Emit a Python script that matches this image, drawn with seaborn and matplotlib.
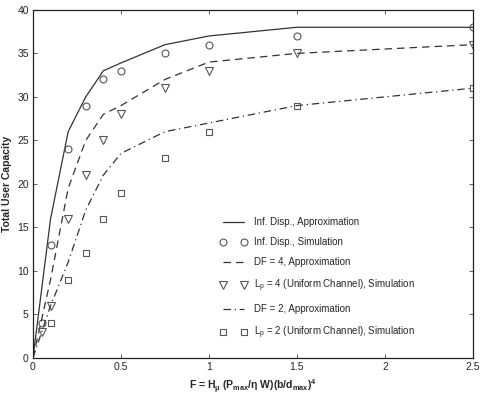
import numpy as np
import pandas as pd
import matplotlib
matplotlib.use('Agg')
import matplotlib.pyplot as plt
import seaborn as sns

# approximation curves
f_approx = [0, 0.05, 0.1, 0.2, 0.3, 0.4, 0.5, 0.75, 1.0, 1.5, 2.5]
inf_approx = [0, 8, 16, 26, 30, 33, 33.9, 36, 37, 38, 38]
df4_approx = [0, 4.5, 9, 19.5, 25, 28, 29, 32, 34, 35, 36]
df2_approx = [0, 3, 6, 11, 17, 21, 23.5, 26, 27, 29, 31]

# simulation points
f_sim = [0.05, 0.1, 0.2, 0.3, 0.4, 0.5, 0.75, 1.0, 1.5, 2.5]
inf_sim = [4, 13, 24, 29, 32, 33, 35, 36, 37, 38]
lp4_sim = [3, 6, 16, 21, 25, 28, 31, 33, 35, 36]
f_sim2 = [0.1, 0.2, 0.3, 0.4, 0.5, 0.75, 1.0, 1.5, 2.5]
lp2_sim = [4, 9, 12, 16, 19, 23, 26, 29, 31]

sns.set_style('ticks')
plt.rcParams['font.family'] = ['Liberation Sans', 'DejaVu Sans']
plt.rcParams['mathtext.fontset'] = 'custom'
plt.rcParams['mathtext.rm'] = 'Liberation Sans'
plt.rcParams['mathtext.it'] = 'Liberation Sans:italic'
plt.rcParams['mathtext.bf'] = 'Liberation Sans:bold'

fig = plt.figure(figsize=(4.85, 3.95), dpi=100)
ax = fig.add_axes([0.068, 0.094, 0.907, 0.881])

lc = '#333333'
mc = '#555555'
lw = 0.9

sns.lineplot(x=f_approx, y=inf_approx, ax=ax, color=lc, linewidth=lw,
             linestyle='-', label='Inf. Disp., Approximation')
sns.lineplot(x=f_sim, y=inf_sim, ax=ax, color=mc, linestyle='', marker='o',
             markersize=5, markerfacecolor='none', markeredgecolor=mc,
             markeredgewidth=0.8, label='Inf. Disp., Simulation')
sns.lineplot(x=f_approx, y=df4_approx, ax=ax, color=lc, linewidth=lw,
             dashes=(6, 4), label='DF = 4, Approximation')
sns.lineplot(x=f_sim, y=lp4_sim, ax=ax, color=mc, linestyle='', marker='v',
             markersize=5.5, markerfacecolor='none', markeredgecolor=mc,
             markeredgewidth=0.8, label=r'L$_\mathregular{p}$ = 4 (Uniform Channel), Simulation')
sns.lineplot(x=f_approx, y=df2_approx, ax=ax, color=lc, linewidth=lw,
             dashes=(6, 3, 1, 3), label='DF = 2, Approximation')
sns.lineplot(x=f_sim2, y=lp2_sim, ax=ax, color=mc, linestyle='', marker='s',
             markersize=4, markerfacecolor='none', markeredgecolor=mc,
             markeredgewidth=0.8, label=r'L$_\mathregular{p}$ = 2 (Uniform Channel), Simulation')

ax.set_xlim(0, 2.5)
ax.set_ylim(0, 40)
ax.set_xticks([0, 0.5, 1, 1.5, 2, 2.5])
ax.set_xticklabels(['0', '0.5', '1', '1.5', '2', '2.5'])
ax.set_yticks(range(0, 41, 5))
ax.tick_params(direction='in', top=True, right=True, labelsize=7.5,
               length=3, width=0.6, color='#444444', pad=3)
for s in ax.spines.values():
    s.set_linewidth(0.9)
    s.set_color('#222222')

ax.set_ylabel('Total User Capacity', fontsize=7.5, fontweight='bold', labelpad=4)
ax.set_xlabel(r'F = H$_\mathbf{\mu}$ (P$_\mathbf{max}$/$\mathbf{\eta}$ W)(b/d$_\mathbf{max}$)$^\mathbf{4}$',
              fontsize=7.5, fontweight='bold', labelpad=4)

leg = ax.legend(loc='upper left', bbox_to_anchor=(0.405, 0.43), frameon=False,
                fontsize=7, numpoints=2, handlelength=2.8, handletextpad=0.7,
                labelspacing=1.05)

fig.savefig('out.png', dpi=100)
